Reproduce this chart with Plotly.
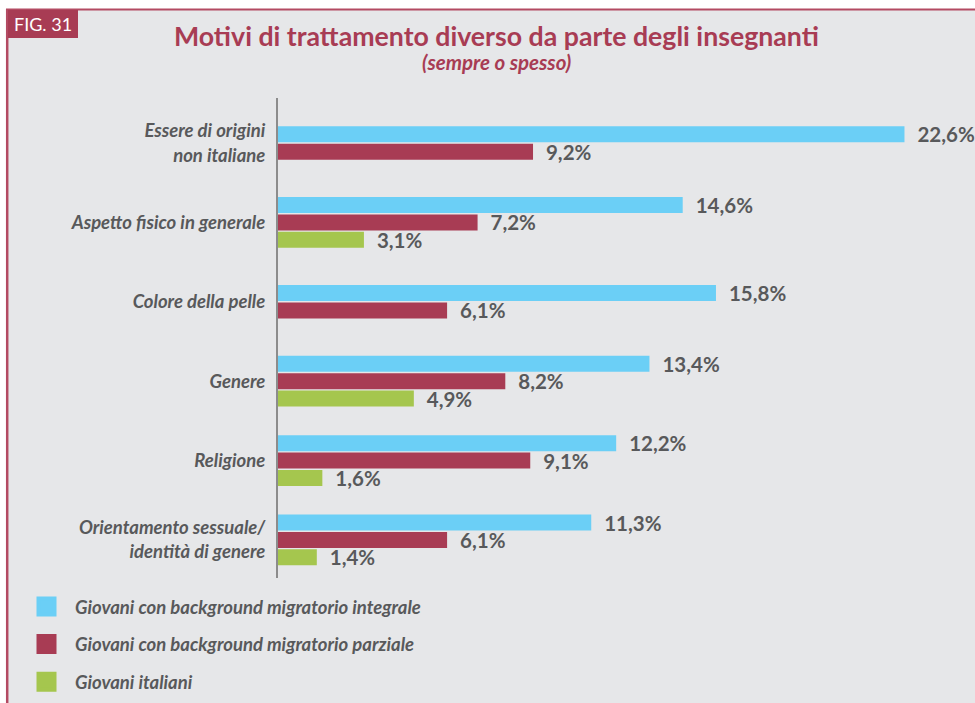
import plotly.graph_objects as go

# --- data -------------------------------------------------------------
categories = [
    "Essere di origini<br>non italiane",
    "Aspetto fisico in generale",
    "Colore della pelle",
    "Genere",
    "Religione",
    "Orientamento sessuale/<br>identità di genere",
]
series_names = [
    "Giovani con background migratorio integrale",
    "Giovani con background migratorio parziale",
    "Giovani italiani",
]
integrale = [22.6, 14.6, 15.8, 13.4, 12.2, 11.3]
parziale = [9.2, 7.2, 6.1, 8.2, 9.1, 6.1]
italiani = [None, 3.1, None, 4.9, 1.6, 1.4]
series_values = [integrale, parziale, italiani]

# --- styling ------------------------------------------------------------
colors = ["#6bcff6", "#a83c54", "#a5c64e"]
RED = "#a83c54"
GREY_TXT = "#58595b"
BG = "#e6e7e9"
W, H = 975, 703
ML, MR, MT, MB = 278, 4, 98, 125
PW, PH = W - ML - MR, H - MT - MB

BAR_W = 0.2015   # bar thickness in category units
PITCH = 0.219    # distance between bars inside a group


def fx(px):
    return (px - ML) / PW


def fy(py):
    return (H - MB - py) / PH


def pct(v):
    return "\u00a0\u00a0" + f"{v:.1f}".replace(".", ",") + "%"


fig = go.Figure()

# bars of each category are centred on the category, skipping missing series
for s, (name, vals) in enumerate(zip(series_names, series_values)):
    ys, xs, offs, texts = [], [], [], []
    for i, cat in enumerate(categories):
        v = vals[i]
        if v is None:
            continue
        present = [k for k in range(len(series_values)) if series_values[k][i] is not None]
        rank = present.index(s)
        center = (rank - (len(present) - 1) / 2) * PITCH
        ys.append(cat)
        xs.append(v)
        offs.append(center - BAR_W / 2)
        texts.append(pct(v))
    fig.add_trace(go.Bar(
        y=ys, x=xs, orientation="h", name=name,
        offset=offs, width=[BAR_W] * len(xs),
        marker=dict(color=colors[s], line=dict(width=0)),
        text=texts, textposition="outside", constraintext="none",
        textfont=dict(family="Lato", size=20.5, color=GREY_TXT, weight="bold"),
        cliponaxis=False, showlegend=False, hoverinfo="skip",
    ))
    # legend swatch
    fig.add_trace(go.Scatter(
        x=[None], y=[None], mode="markers", name=name, legendgroup=name,
        marker=dict(symbol="square", size=16, color=colors[s],
                    line=dict(width=4, color=colors[s])),
    ))

# --- frame and figure label ---------------------------------------------
shapes = [
    dict(type="rect", xref="paper", yref="paper", x0=fx(6), x1=fx(W + 5),
         y0=fy(H + 5), y1=fy(9), fillcolor=BG, line=dict(width=0), layer="below"),
    dict(type="line", xref="paper", yref="paper", x0=fx(6), x1=fx(W + 5),
         y0=fy(9.5), y1=fy(9.5), line=dict(color="#b34a62", width=2)),
    dict(type="line", xref="paper", yref="paper", x0=fx(7.2), x1=fx(7.2),
         y0=fy(9), y1=fy(H + 5), line=dict(color="#b34a62", width=2.5)),
    dict(type="rect", xref="paper", yref="paper", x0=fx(8), x1=fx(78),
         y0=fy(38), y1=fy(10), fillcolor=RED, line=dict(width=0)),
]

annotations = [
    dict(text="FIG. 31", xref="paper", yref="paper", x=fx(43), y=fy(24),
         xanchor="center", yanchor="middle", showarrow=False,
         font=dict(family="Lato", size=18, color="white")),
    dict(text="Motivi di trattamento diverso da parte degli insegnanti",
         xref="paper", yref="paper", x=fx(496), y=fy(36.5),
         xanchor="center", yanchor="middle", showarrow=False,
         font=dict(family="Lato", size=26.7, color=RED, weight="bold")),
    dict(text="(sempre o spesso)", xref="paper", yref="paper", x=fx(496), y=fy(62),
         xanchor="center", yanchor="middle", showarrow=False,
         font=dict(family="Lato", size=20.5, color=RED, weight="bold", style="italic")),
]

fig.update_layout(
    width=W, height=H,
    margin=dict(l=ML, r=MR, t=MT, b=MB, pad=0, autoexpand=False),
    paper_bgcolor="white", plot_bgcolor="rgba(0,0,0,0)",
    barmode="overlay",
    shapes=shapes, annotations=annotations,
    showlegend=True,
    legend=dict(
        xref="container", yref="container", x=18 / W, y=1 - 588 / H,
        xanchor="left", yanchor="top", bgcolor="rgba(0,0,0,0)",
        traceorder="grouped", tracegroupgap=10.5, itemwidth=47,
        font=dict(family="Lato", size=18.5, color=GREY_TXT, weight="bold", style="italic"),
    ),
    xaxis=dict(range=[0, 25], visible=False, fixedrange=True),
    yaxis=dict(
        type="category", categoryorder="array", categoryarray=categories,
        range=[5.479, -0.567], showgrid=False, zeroline=False,
        showline=True, linecolor="#8c8c8c", linewidth=2,
        ticks="", ticklabelstandoff=7, automargin=False,
        tickfont=dict(family="Lato", size=18.5, color=GREY_TXT, weight="bold", style="italic"),
    ),
)

fig.write_html("out.html")
